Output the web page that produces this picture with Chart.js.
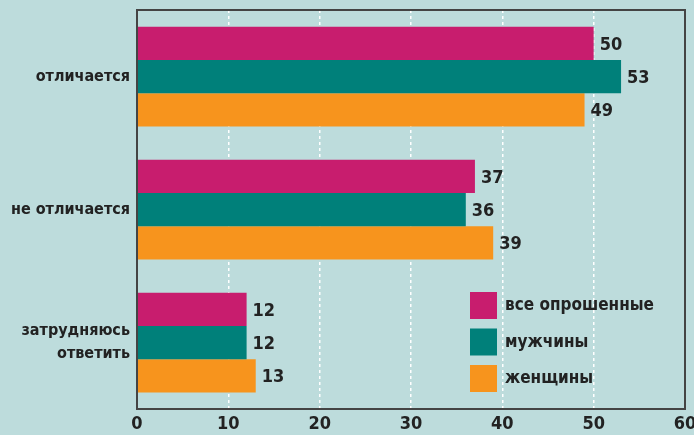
<!DOCTYPE html>
<html>
<head>
<meta charset="utf-8">
<script src="https://cdn.jsdelivr.net/npm/chart.js@4/dist/chart.umd.min.js"></script>
<style>
  html, body { margin: 0; padding: 0; background: #bddcdc; }
  #wrap { width: 694px; height: 435px; }
</style>
</head>
<body>
<div id="wrap"><canvas id="c" width="694" height="435"></canvas></div>
<script>
const categories = ['отличается', 'не отличается', ['затрудняюсь', 'ответить']]
const allValues = [50, 37, 12]
const menValues = [53, 36, 12]
const womenValues = [49, 39, 13]
const seriesNames = ['все опрошенные', 'мужчины', 'женщины']
const xTicks = [0, 10, 20, 30, 40, 50, 60]

const colors = ['#c81d6e', '#00807a', '#f7941d']
const fontFamily = "'DejaVu Sans Condensed', 'Roboto', sans-serif"

// values to the right of each bar
const valueLabels = {
  id: 'valueLabels',
  afterDatasetsDraw(chart) {
    const ctx = chart.ctx
    ctx.save()
    ctx.font = 'bold 18px ' + fontFamily
    ctx.fillStyle = '#222'
    ctx.textBaseline = 'middle'
    chart.data.datasets.forEach((ds, i) => {
      chart.getDatasetMeta(i).data.forEach((bar, j) => {
        ctx.fillText(String(ds.data[j]), bar.x + 6, bar.y + 2)
      })
    })
    ctx.restore()
  }
}

// frame + legend inside the plot
const frameAndLegend = {
  id: 'frameAndLegend',
  afterDraw(chart) {
    const ctx = chart.ctx
    const a = chart.chartArea
    ctx.save()
    ctx.strokeStyle = '#444'
    ctx.lineWidth = 2
    ctx.strokeRect(a.left, a.top, a.right - a.left, a.bottom - a.top)

    ctx.font = 'bold 17px ' + fontFamily
    ctx.textBaseline = 'middle'
    seriesNames.forEach((name, i) => {
      const y = 292 + i * 36.5
      ctx.fillStyle = colors[i]
      ctx.fillRect(470, y, 27, 27)
      ctx.fillStyle = '#222'
      ctx.fillText(name, 505, y + 14)
    })
    ctx.restore()
  }
}

new Chart(document.getElementById('c').getContext('2d'), {
  type: 'bar',
  data: {
    labels: categories,
    datasets: [
      { label: seriesNames[0], data: allValues, backgroundColor: colors[0] },
      { label: seriesNames[1], data: menValues, backgroundColor: colors[1] },
      { label: seriesNames[2], data: womenValues, backgroundColor: colors[2] }
    ]
  },
  options: {
    indexAxis: 'y',
    responsive: false,
    animation: false,
    layout: { padding: { top: 10, right: 9, left: 0, bottom: 0 } },
    datasets: { bar: { barPercentage: 1, categoryPercentage: 0.75 } },
    scales: {
      x: {
        min: 0,
        max: 60,
        afterBuildTicks: axis => { axis.ticks = xTicks.map(v => ({ value: v })) },
        afterFit: axis => {
          axis.height = 26
          axis.paddingLeft = 0
          axis.paddingRight = 0
        },
        grid: { color: '#ffffff', lineWidth: 1.5, drawTicks: false },
        border: { display: false, dash: [3, 3] },
        ticks: { color: '#222', padding: 5, font: { family: fontFamily, size: 18, weight: 'bold' } }
      },
      y: {
        afterFit: axis => {
          axis.width = 137
          axis.paddingTop = 0
          axis.paddingBottom = 0
        },
        grid: { display: false, drawTicks: false },
        border: { display: false },
        ticks: { color: '#222', padding: 7, font: { family: fontFamily, size: 16, weight: 'bold', lineHeight: 1.4 } }
      }
    },
    plugins: {
      legend: { display: false },
      tooltip: { enabled: false }
    }
  },
  plugins: [valueLabels, frameAndLegend]
})
</script>
</body>
</html>
